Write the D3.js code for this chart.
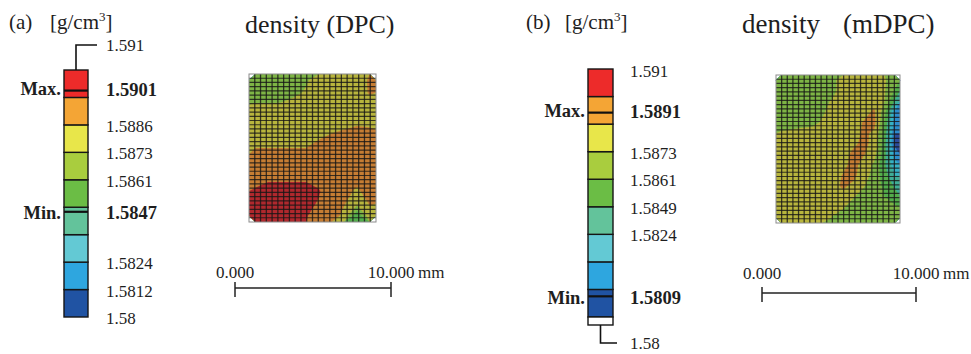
<!DOCTYPE html>
<meta charset="utf-8">
<style>
body { margin: 0; background: #fff; }
text { font-family: "Liberation Serif", "Times New Roman", serif; fill: #1e1e1e; }
.lbl { font-size: 17px; }
.bold { font-weight: bold; font-size: 18.5px; }
</style>
<svg width="971" height="354" id="fig"></svg>
<script src="https://d3js.org/d3.v7.min.js"></script>
<script>
// legend band edges [g/cm3], bottom to top
var edges = [1.58, 1.5812, 1.5824, 1.5837, 1.5849, 1.5861, 1.5873, 1.5886, 1.5898, 1.591];
var bandColors = ["#2053a3", "#2ea6df", "#63c9d4", "#63c39b", "#6bbd45", "#a9cd3e", "#e8e64a", "#f4a535", "#ed2b2a"];
// same bands as they look under the mesh
var meshColors = ["#2b4c9c", "#2c8ccd", "#35b1c6", "#3fae97", "#53ad4b", "#7eb545", "#b8b53d", "#c67d33", "#b0282d"];

// legend tick labels and the band edge (counted from the bottom) they stand at
var labelsA = ["1.5886", "1.5873", "1.5861", "1.5824", "1.5812", "1.58"];
var slotsA = [7, 6, 5, 2, 1, 0];
var labelsB = ["1.5873", "1.5861", "1.5849", "1.5824"];
var slotsB = [6, 5, 4, 3];
var maxA = 1.5901, minA = 1.5847;
var maxB = 1.5891, minB = 1.5809;

var densityA = [
  [1.5867, 1.5867, 1.5867, 1.5868, 1.5872, 1.5877, 1.5879, 1.5881, 1.5882, 1.5887],
  [1.5867, 1.5867, 1.5868, 1.5871, 1.5874, 1.5878, 1.5879, 1.5881, 1.5881, 1.5887],
  [1.5874, 1.5874, 1.5874, 1.5876, 1.5877, 1.5879, 1.5879, 1.5880, 1.5881, 1.5882],
  [1.5877, 1.5877, 1.5878, 1.5878, 1.5879, 1.5879, 1.5880, 1.5879, 1.5881, 1.5881],
  [1.5879, 1.5879, 1.5880, 1.5880, 1.5881, 1.5881, 1.5884, 1.5886, 1.5888, 1.5887],
  [1.5883, 1.5883, 1.5883, 1.5883, 1.5883, 1.5887, 1.5890, 1.5891, 1.5891, 1.5891],
  [1.5889, 1.5889, 1.5889, 1.5889, 1.5889, 1.5891, 1.5892, 1.5893, 1.5893, 1.5892],
  [1.5891, 1.5892, 1.5893, 1.5894, 1.5893, 1.5892, 1.5892, 1.5892, 1.5891, 1.5892],
  [1.5893, 1.5897, 1.5897, 1.5897, 1.5897, 1.5894, 1.5892, 1.5891, 1.5890, 1.5891],
  [1.5900, 1.5901, 1.5901, 1.5901, 1.5901, 1.5899, 1.5891, 1.5890, 1.5884, 1.5891],
  [1.5901, 1.5901, 1.5901, 1.5901, 1.5901, 1.5897, 1.5892, 1.5887, 1.5877, 1.5887],
  [1.5900, 1.5901, 1.5900, 1.5900, 1.5899, 1.5892, 1.5893, 1.5882, 1.5851, 1.5881]
];

var densityB = [
  [1.5867, 1.5867, 1.5868, 1.5868, 1.5869, 1.5871, 1.5877, 1.5878, 1.5878, 1.5878, 1.5874, 1.5868],
  [1.5867, 1.5867, 1.5868, 1.5868, 1.5870, 1.5871, 1.5877, 1.5879, 1.5879, 1.5879, 1.5874, 1.5860],
  [1.5868, 1.5868, 1.5868, 1.5869, 1.5871, 1.5874, 1.5878, 1.5879, 1.5881, 1.5882, 1.5873, 1.5847],
  [1.5868, 1.5868, 1.5869, 1.5870, 1.5872, 1.5876, 1.5878, 1.5880, 1.5882, 1.5888, 1.5866, 1.5823],
  [1.5869, 1.5869, 1.5870, 1.5871, 1.5874, 1.5877, 1.5879, 1.5881, 1.5887, 1.5890, 1.5860, 1.5819],
  [1.5874, 1.5875, 1.5876, 1.5876, 1.5877, 1.5878, 1.5879, 1.5881, 1.5888, 1.5884, 1.5856, 1.5812],
  [1.5876, 1.5876, 1.5877, 1.5878, 1.5878, 1.5879, 1.5880, 1.5883, 1.5890, 1.5881, 1.5854, 1.5809],
  [1.5877, 1.5877, 1.5878, 1.5878, 1.5879, 1.5879, 1.5880, 1.5890, 1.5887, 1.5878, 1.5853, 1.5819],
  [1.5878, 1.5878, 1.5878, 1.5879, 1.5879, 1.5880, 1.5882, 1.5891, 1.5880, 1.5871, 1.5851, 1.5829],
  [1.5878, 1.5879, 1.5879, 1.5879, 1.5879, 1.5880, 1.5887, 1.5889, 1.5879, 1.5868, 1.5855, 1.5837],
  [1.5879, 1.5879, 1.5879, 1.5880, 1.5880, 1.5882, 1.5888, 1.5883, 1.5874, 1.5866, 1.5859, 1.5847],
  [1.5879, 1.5879, 1.5880, 1.5880, 1.5881, 1.5881, 1.5882, 1.5874, 1.5868, 1.5865, 1.5861, 1.5855],
  [1.5879, 1.5879, 1.5880, 1.5880, 1.5879, 1.5878, 1.5874, 1.5868, 1.5867, 1.5866, 1.5866, 1.5863],
  [1.5879, 1.5879, 1.5879, 1.5879, 1.5879, 1.5872, 1.5868, 1.5867, 1.5867, 1.5867, 1.5867, 1.5867]
];

var scaleMM = [0, 10];
var scaleLabels = ["0.000", "10.000"];

var svg = d3.select("#fig");

function legend(o) {
  var g = svg.append("g");
  var y = d3.scaleLinear().domain([0, 9]).range([o.bottom, o.top]);
  var slot = d3.scaleLinear().domain(edges).range(d3.range(edges.length));
  var cx = o.x + o.w / 2;

  g.selectAll("rect.band").data(bandColors).join("rect")
    .attr("class", "band")
    .attr("x", o.x).attr("width", o.w)
    .attr("y", (d, i) => y(i + 1))
    .attr("height", (d, i) => y(i) - y(i + 1))
    .attr("fill", d => d)
    .attr("stroke", "#151515").attr("stroke-width", 1.4);

  // max / min marks
  [o.max, o.min].forEach(function(v) {
    g.append("line")
      .attr("x1", o.x).attr("x2", o.x + o.w)
      .attr("y1", y(slot(v))).attr("y2", y(slot(v)))
      .attr("stroke", "#111").attr("stroke-width", 2.2);
  });
  g.append("text").attr("class", "bold").attr("x", o.x - 3).attr("y", y(slot(o.max)) - 2)
    .attr("dy", "0.35em").attr("text-anchor", "end").text("Max.");
  g.append("text").attr("class", "bold").attr("x", o.x + 42).attr("y", y(slot(o.max)) - 1)
    .attr("dy", "0.35em").text(o.max.toFixed(4));
  g.append("text").attr("class", "bold").attr("x", o.x - 3).attr("y", y(slot(o.min)) + 1)
    .attr("dy", "0.35em").attr("text-anchor", "end").text("Min.");
  g.append("text").attr("class", "bold").attr("x", o.x + 42).attr("y", y(slot(o.min)) + 1)
    .attr("dy", "0.35em").text(o.min.toFixed(4));

  g.selectAll("text.tick").data(o.labels).join("text")
    .attr("class", "lbl tick")
    .attr("x", o.x + 42)
    .attr("y", (d, i) => y(o.slots[i]) + 1)
    .attr("dy", "0.35em")
    .text(d => d);

  if (o.leaderTop) {
    g.append("path")
      .attr("d", "M" + cx + "," + o.top + "V" + o.leaderTop + "H" + (o.x + 33))
      .attr("fill", "none").attr("stroke", "#111").attr("stroke-width", 1.6);
    g.append("text").attr("class", "lbl").attr("x", o.x + 42).attr("y", o.leaderTop)
      .attr("dy", "0.35em").text(edges[9].toString());
  }
  if (o.leaderBottom) {
    g.append("rect").attr("x", o.x).attr("width", o.w)
      .attr("y", o.bottom).attr("height", 8)
      .attr("fill", "#fff").attr("stroke", "#151515").attr("stroke-width", 1.4);
    g.append("path")
      .attr("d", "M" + cx + "," + (o.bottom + 8) + "V" + o.leaderBottom + "H" + (o.x + 29))
      .attr("fill", "none").attr("stroke", "#111").attr("stroke-width", 1.6);
    g.append("text").attr("class", "lbl").attr("x", o.x + 42).attr("y", o.leaderBottom)
      .attr("dy", "0.35em").text(edges[0].toString());
  }
  if (o.topLabel) {
    g.append("text").attr("class", "lbl").attr("x", o.x + 42).attr("y", o.top + 2)
      .attr("dy", "0.35em").text(edges[9].toString());
  }
}

function field(grid, box) {
  var ny = grid.length, nx = grid[0].length;
  var g = svg.append("g");
  var sx = d3.scaleLinear().domain([0, nx]).range([box.x0, box.x1]);
  var sy = d3.scaleLinear().domain([0, ny]).range([box.y0, box.y1]);
  var proj = d3.geoTransform({ point: function(x, y) { this.stream.point(sx(x), sy(y)); } });
  var path = d3.geoPath(proj);
  var bands = d3.contours().size([nx, ny]).thresholds(edges.slice(0, 9))(grid.flat());

  g.selectAll("path").data(bands).join("path")
    .attr("d", path)
    .attr("fill", (d, i) => meshColors[i]);

  // element mesh
  var mx = d3.scaleLinear().domain([0, 22]).range([box.x0, box.x1]);
  var my = d3.scaleLinear().domain([0, 35]).range([box.y0, box.y1]);
  g.selectAll("line.v").data(d3.range(1, 22)).join("line")
    .attr("class", "v")
    .attr("x1", d => mx(d)).attr("x2", d => mx(d))
    .attr("y1", box.y0).attr("y2", box.y1)
    .attr("stroke", "#161616").attr("stroke-opacity", 0.8).attr("stroke-width", 1.3);
  g.selectAll("line.h").data(d3.range(1, 35)).join("line")
    .attr("class", "h")
    .attr("y1", d => my(d)).attr("y2", d => my(d))
    .attr("x1", box.x0).attr("x2", box.x1)
    .attr("stroke", "#161616").attr("stroke-opacity", 0.8).attr("stroke-width", 1.2);
  g.append("rect")
    .attr("x", box.x0).attr("y", box.y0)
    .attr("width", box.x1 - box.x0).attr("height", box.y1 - box.y0)
    .attr("fill", "none").attr("stroke", "#8c8c8c").attr("stroke-width", 1);
}

function scaleBar(o) {
  var x = d3.scaleLinear().domain(scaleMM).range([o.x0, o.x1]);
  var g = svg.append("g");
  g.append("line").attr("x1", x(0)).attr("x2", x(10)).attr("y1", o.y).attr("y2", o.y)
    .attr("stroke", "#222").attr("stroke-width", 1.5);
  g.selectAll("line.tk").data(scaleMM).join("line")
    .attr("class", "tk")
    .attr("x1", d => x(d)).attr("x2", d => x(d))
    .attr("y1", o.y - 6).attr("y2", o.y + 9)
    .attr("stroke", "#222").attr("stroke-width", 1.5);
  g.selectAll("text.tl").data(scaleMM).join("text")
    .attr("class", "lbl tl")
    .attr("x", d => x(d)).attr("y", o.ty)
    .attr("text-anchor", "middle")
    .text((d, i) => scaleLabels[i]);
  g.append("text").attr("class", "lbl").attr("x", x(10) + 27).attr("y", o.ty).text("mm");
}

function header(x, letter, xUnit) {
  svg.append("text").attr("x", x).attr("y", 29).style("font-size", "21px").text(letter);
  var u = svg.append("text").attr("x", xUnit).attr("y", 29).style("font-size", "21px");
  u.append("tspan").text("[g/cm");
  u.append("tspan").attr("dy", -8).style("font-size", "13px").text("3");
  u.append("tspan").attr("dy", 8).text("]");
}

header(9, "(a)", 50);
header(526, "(b)", 565);

svg.append("text").attr("x", 245).attr("y", 33).style("font-size", "26px")
  .text("density (DPC)");
svg.append("text").attr("x", 742).attr("y", 33).style("font-size", "27px")
  .text("density");
svg.append("text").attr("x", 843).attr("y", 33).style("font-size", "27px")
  .text("(mDPC)");

legend({ x: 64, w: 24, top: 70, bottom: 317, labels: labelsA, slots: slotsA,
         max: maxA, min: minA, leaderTop: 45 });
legend({ x: 588, w: 25, top: 69, bottom: 317, labels: labelsB, slots: slotsB,
         max: maxB, min: minB, leaderBottom: 343, topLabel: true });

field(densityA, { x0: 249, x1: 376, y0: 74, y1: 222 });
field(densityB, { x0: 776, x1: 900, y0: 75, y1: 223 });

scaleBar({ x0: 235, x1: 391, y: 288, ty: 278 });
scaleBar({ x0: 762, x1: 916, y: 293, ty: 279 });
</script>
